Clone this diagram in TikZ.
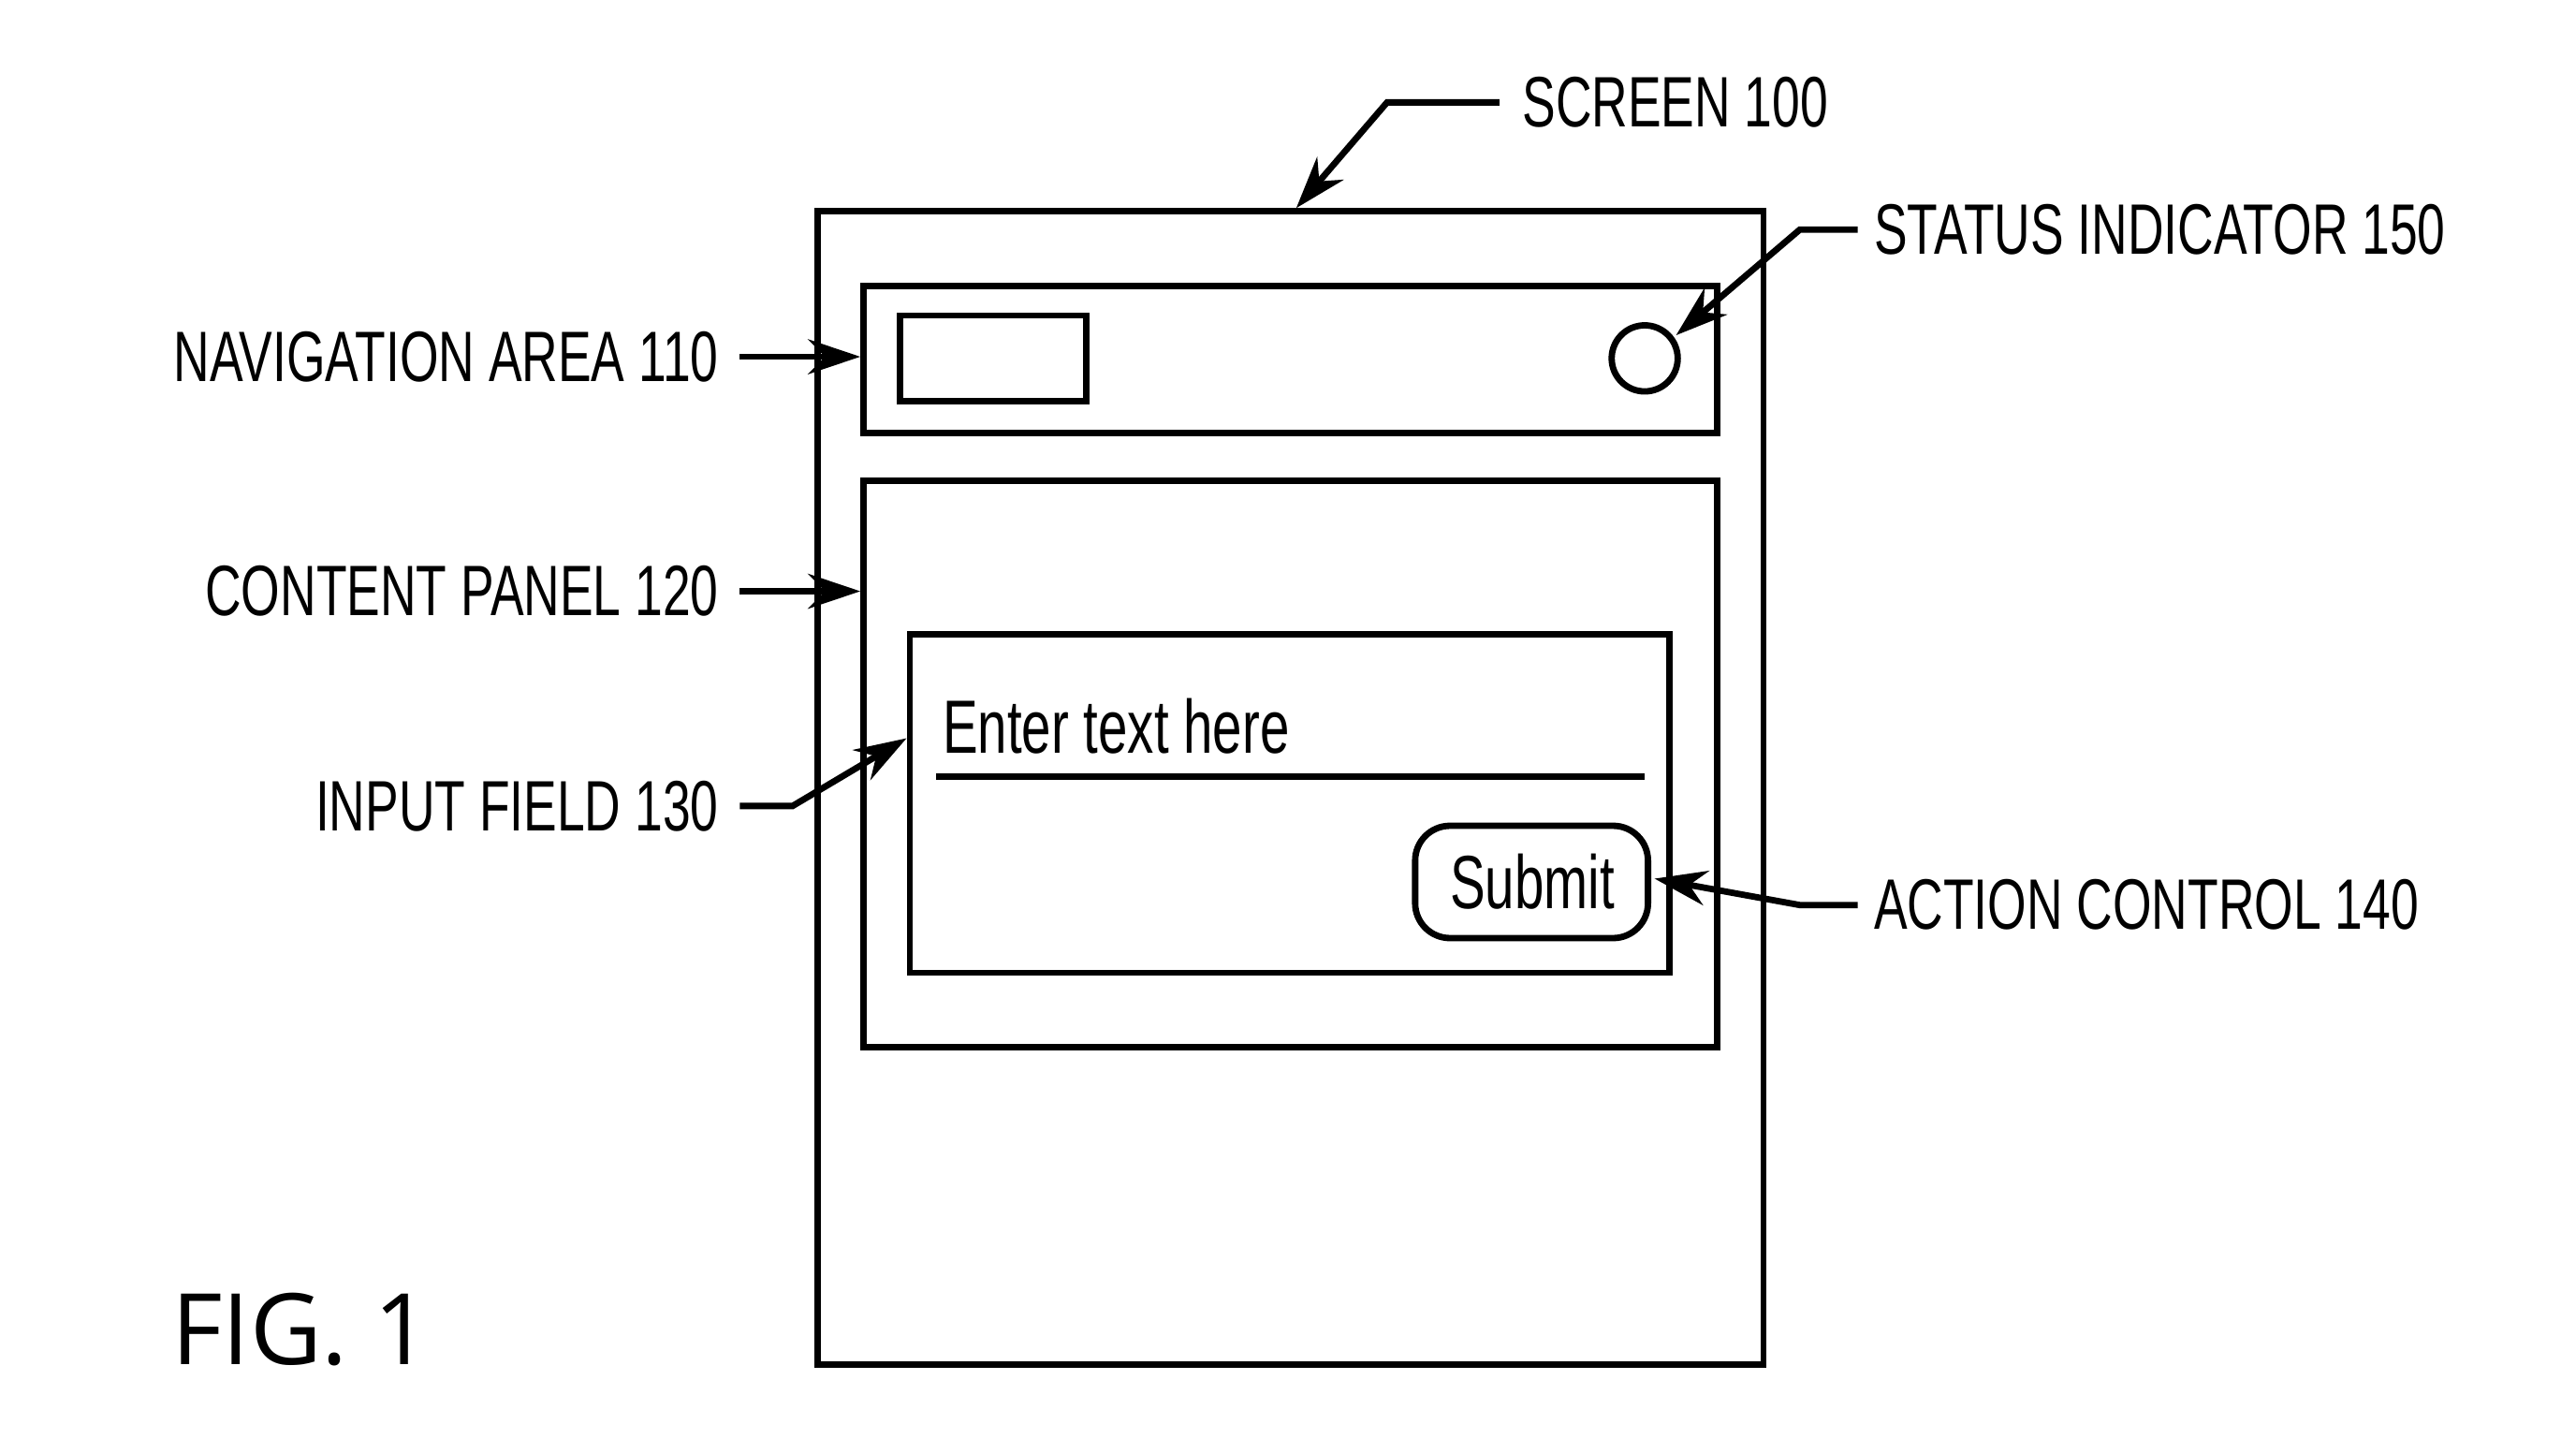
\documentclass[tikz,border=0pt]{standalone}
\usepackage{fontspec}
\setmainfont{Liberation Sans}
\newfontfamily\cond{Liberation Sans}[FakeStretch=0.7]
\newfontfamily\figf{Open Sans}
\usetikzlibrary{arrows.meta}
\begin{document}
\begin{tikzpicture}[x=0.01cm,y=-0.01cm,line width=1.1pt,
  box/.style={draw,line width=1.1pt},
  lbl/.style={font=\cond\fontsize{12.3}{14}\selectfont,inner sep=0pt},
  lead/.style={line width=1.1pt,-{Stealth[length=9pt,width=6pt]}}]
\useasboundingbox (0,0) rectangle (1560,871);
\draw[box] (495,128) rectangle (1068,826);
\coordinate (scr) at (785,126);
\draw[box] (523,173) rectangle (1040,262);
\draw[box] (545,191) rectangle (658,243);
\draw (996,217) circle (20);
\draw[box] (523,291) rectangle (1040,634);
\draw[box] (551,384) rectangle (1011,589);
\node[lbl,anchor=base west,font=\cond\fontsize{13}{16}\selectfont] (ent) at (569,456) {Enter text here};
\draw (567,470) -- (996,470);
\draw[rounded corners=6pt] (857,500) rectangle (998,568);
\node[font=\cond\fontsize{13}{16}\selectfont] (sub) at (928,534) {Submit};
% labels
\node[lbl,anchor=west] (l100) at (920,62) {SCREEN 100};
\draw[lead] (l100.west) ++(-12,0) -- (840,62) -- (scr);
\node[lbl,anchor=west] (l150) at (1133,139) {STATUS INDICATOR 150};
\draw[lead] (1125,139) -- (1090,139) -- (1015,203);
\node[lbl,anchor=east] (l110) at (437,216) {NAVIGATION AREA 110};
\draw[lead] (448,216) -- (521,216);
\node[lbl,anchor=east] (l120) at (437,358) {CONTENT PANEL 120};
\draw[lead] (448,358) -- (521,358);
\node[lbl,anchor=east] (l130) at (437,488) {INPUT FIELD 130};
\draw[lead] (448,488) -- (480,488) -- (549,447);
\node[lbl,anchor=west] (l140) at (1133,548) {ACTION CONTROL 140};
\draw[lead] (1125,548) -- (1090,548) -- (1002,532);
\node[anchor=base west,inner sep=0pt,font=\figf\fontsize{17}{20}\selectfont] (fig) at (102,826) {FIG. 1};
\end{tikzpicture}
\end{document}
